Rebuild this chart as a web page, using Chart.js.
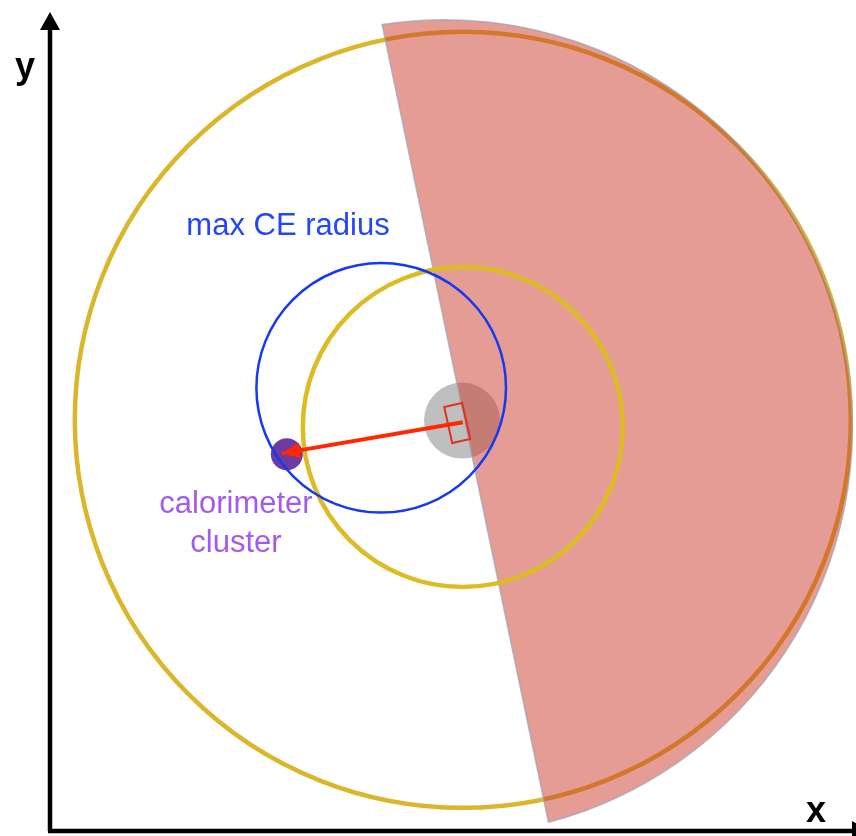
<!DOCTYPE html>
<html>
<head>
<meta charset="utf-8">
<script src="https://cdn.jsdelivr.net/npm/chart.js@4/dist/chart.umd.min.js"></script>
<style>
  html, body { margin: 0; padding: 0; background: #fff; overflow: hidden; }
  #wrap { width: 856px; height: 836px; position: relative; }
</style>
</head>
<body>
<div id="wrap"><canvas id="sketch"></canvas></div>
<script>
// plot frame, in arbitrary length units (equal scale on both axes)
const xRange = [0, 10];
const yRange = [0, 10];

// rings: tracker outer, tracker inner, max CE radius
const ringNames = ['outer', 'inner', 'maxCE'];
const ringX = [5.16, 5.16, 4.14];
const ringY = [5.14, 5.05, 5.54];
const ringR = [4.85, 2.00, 1.56];

// shaded half-disk (circular segment cut by a chord)
const shadeCenter = [4.93, 5.04];
const shadeR = 5.10;
const chordX = [4.15, 6.23];
const chordY = [10.09, 0.11];

// target (grey disk) and stopping target box
const targetX = [5.15];
const targetY = [5.13];
const targetR = [0.475];
const boxCenter = [5.09, 5.10];
const boxSize = [0.23, 0.46];
const boxTilt = 12.5;

// calorimeter cluster
const clusterX = [2.96];
const clusterY = [4.71];
const clusterR = [0.20];

// arrow from target to cluster
const arrowX = [5.16, 2.90];
const arrowY = [5.11, 4.72];

function toPx(chart, r) {
    const x = chart.scales.x;
    return Math.abs(x.getPixelForValue(r) - x.getPixelForValue(0));
}

function ring(chart, i, color, width) {
    const ctx = chart.ctx;
    const x = chart.scales.x, y = chart.scales.y;
    ctx.save();
    ctx.beginPath();
    ctx.arc(x.getPixelForValue(ringX[i]), y.getPixelForValue(ringY[i]), toPx(chart, ringR[i]), 0, Math.PI * 2);
    ctx.strokeStyle = color;
    ctx.lineWidth = width;
    ctx.stroke();
    ctx.restore();
}

function label(chart, text, dx, dy, color, font) {
    const ctx = chart.ctx;
    ctx.save();
    ctx.fillStyle = color;
    ctx.font = font;
    ctx.textAlign = 'center';
    ctx.textBaseline = 'alphabetic';
    ctx.fillText(text, chart.scales.x.getPixelForValue(dx), chart.scales.y.getPixelForValue(dy));
    ctx.restore();
}

const sketchPlugin = {
    id: 'sketch',
    beforeDatasetsDraw(chart) {
        ring(chart, 0, '#DAB62A', 4.5);
    },
    afterDatasetDraw(chart, args) {
        const ctx = chart.ctx;
        const x = chart.scales.x, y = chart.scales.y;
        if (args.index === 2) {
            // shaded segment over the target disk
            const cx = x.getPixelForValue(shadeCenter[0]);
            const cy = y.getPixelForValue(shadeCenter[1]);
            const r = toPx(chart, shadeR);
            const a1 = Math.atan2(y.getPixelForValue(chordY[0]) - cy, x.getPixelForValue(chordX[0]) - cx);
            const a2 = Math.atan2(y.getPixelForValue(chordY[1]) - cy, x.getPixelForValue(chordX[1]) - cx);
            ctx.save();
            ctx.beginPath();
            ctx.arc(cx, cy, r, a1, a2, false);
            ctx.closePath();
            ctx.fillStyle = 'rgba(204, 58, 44, 0.5)';
            ctx.fill();
            ctx.strokeStyle = 'rgba(150, 165, 178, 0.7)';
            ctx.lineWidth = 1.5;
            ctx.stroke();
            ctx.restore();
            ring(chart, 1, '#DDBB22', 4.5);
        }
        if (args.index === 1) {
            ring(chart, 2, '#1638F2', 2.5);
            const bx = x.getPixelForValue(boxCenter[0]);
            const by = y.getPixelForValue(boxCenter[1]);
            const w = toPx(chart, boxSize[0]), h = toPx(chart, boxSize[1]);
            ctx.save();
            ctx.translate(bx, by);
            ctx.rotate(-boxTilt * Math.PI / 180);
            ctx.strokeStyle = '#E0301E';
            ctx.lineWidth = 2;
            ctx.strokeRect(-w / 2, -h / 2, w, h);
            ctx.restore();
        }
    },
    afterDatasetsDraw(chart) {
        const ctx = chart.ctx;
        const x = chart.scales.x, y = chart.scales.y;
        const area = chart.chartArea;

        // arrowhead at the cluster end
        const x0 = x.getPixelForValue(arrowX[0]), y0 = y.getPixelForValue(arrowY[0]);
        const x1 = x.getPixelForValue(arrowX[1]), y1 = y.getPixelForValue(arrowY[1]);
        const ang = Math.atan2(y1 - y0, x1 - x0);
        ctx.save();
        ctx.translate(x1, y1);
        ctx.rotate(ang);
        ctx.beginPath();
        ctx.moveTo(0, 0);
        ctx.lineTo(-18, -8);
        ctx.lineTo(-18, 8);
        ctx.closePath();
        ctx.fillStyle = '#FF2800';
        ctx.fill();
        ctx.restore();

        // axes with arrows
        ctx.save();
        ctx.strokeStyle = '#000';
        ctx.fillStyle = '#000';
        ctx.lineWidth = 4.5;
        ctx.beginPath();
        ctx.moveTo(area.left, area.bottom);
        ctx.lineTo(area.left, area.top - 4);
        ctx.moveTo(area.left - 2, area.bottom);
        ctx.lineTo(area.right + 4, area.bottom);
        ctx.stroke();
        ctx.beginPath();
        ctx.moveTo(area.left, area.top - 19);
        ctx.lineTo(area.left - 10, area.top - 1);
        ctx.lineTo(area.left + 10, area.top - 1);
        ctx.closePath();
        ctx.fill();
        ctx.beginPath();
        ctx.moveTo(area.right + 20, area.bottom);
        ctx.lineTo(area.right + 2, area.bottom - 10);
        ctx.lineTo(area.right + 2, area.bottom + 10);
        ctx.closePath();
        ctx.fill();
        ctx.font = 'bold 36px "Liberation Sans", Arial, sans-serif';
        ctx.textAlign = 'center';
        ctx.fillText('y', area.left - 25, area.top + 47);
        ctx.fillText('x', area.right - 34, area.bottom - 9);
        ctx.restore();

        // annotations
        const f = '31px "Liberation Sans", Arial, sans-serif';
        label(chart, 'max CE radius', 2.975, 7.45, '#2447F6', f);
        label(chart, 'calorimeter', 2.325, 3.975, '#A35BEF', f);
        label(chart, 'cluster', 2.325, 3.49, '#A35BEF', f);
    }
};

new Chart(document.getElementById('sketch'), {
    type: 'scatter',
    data: {
        datasets: [
            {
                label: 'electron track',
                data: arrowX.map((v, i) => ({ x: v, y: arrowY[i] })),
                showLine: true,
                borderColor: '#FF2800',
                borderWidth: 4,
                pointRadius: 0,
            },
            {
                label: 'calorimeter cluster',
                data: clusterX.map((v, i) => ({ x: v, y: clusterY[i] })),
                backgroundColor: '#6E3BA0',
                borderWidth: 0,
                pointRadius: (c) => toPx(c.chart, clusterR[c.dataIndex]),
            },
            {
                label: 'target',
                data: targetX.map((v, i) => ({ x: v, y: targetY[i] })),
                backgroundColor: 'rgba(170, 170, 170, 0.75)',
                borderWidth: 0,
                pointRadius: (c) => toPx(c.chart, targetR[c.dataIndex]),
            }
        ]
    },
    options: {
        responsive: true,
        maintainAspectRatio: false,
        animation: false,
        events: [],
        layout: { padding: { left: 50, right: 6, top: 31, bottom: 5 } },
        scales: {
            x: { type: 'linear', min: xRange[0], max: xRange[1], display: false },
            y: { type: 'linear', min: yRange[0], max: yRange[1], display: false }
        },
        plugins: {
            legend: { display: false },
            tooltip: { enabled: false },
            title: { display: false }
        }
    },
    plugins: [sketchPlugin]
});
</script>
</body>
</html>
